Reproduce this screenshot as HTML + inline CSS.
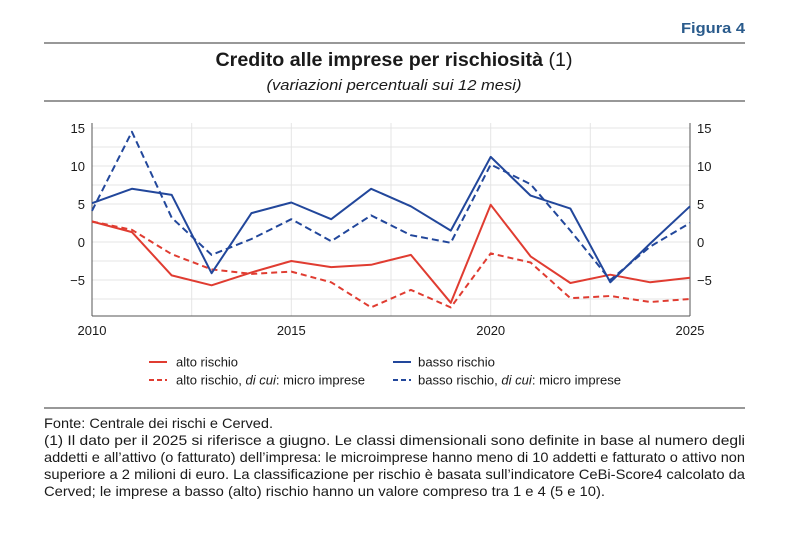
<!DOCTYPE html>
<html><head><meta charset="utf-8"><style>
html,body{margin:0;padding:0;background:#fff;}
svg{display:block;font-family:"Liberation Sans",sans-serif;}
</style></head><body>
<svg width="794" height="543" viewBox="0 0 794 543" xmlns="http://www.w3.org/2000/svg">
<text x="745" y="33" text-anchor="end" font-size="15" font-weight="bold" fill="#2a5b8c" textLength="64" lengthAdjust="spacingAndGlyphs">Figura 4</text>
<line x1="44" y1="43" x2="745" y2="43" stroke="#777" stroke-width="1.5"/>
<text x="394" y="66" text-anchor="middle" font-size="19" fill="#1a1a1a" textLength="357" lengthAdjust="spacingAndGlyphs"><tspan font-weight="bold">Credito alle imprese per rischiosità</tspan> (1)</text>
<text x="394" y="90" text-anchor="middle" font-size="15" font-style="italic" fill="#1a1a1a" textLength="255" lengthAdjust="spacingAndGlyphs">(variazioni percentuali sui 12 mesi)</text>
<line x1="44" y1="101" x2="745" y2="101" stroke="#777" stroke-width="1.5"/>

<g stroke="#e4e4e4" stroke-width="1">
<line x1="92" y1="128" x2="690" y2="128"/><line x1="92" y1="147" x2="690" y2="147"/>
<line x1="92" y1="166" x2="690" y2="166"/><line x1="92" y1="185" x2="690" y2="185"/>
<line x1="92" y1="204" x2="690" y2="204"/><line x1="92" y1="223" x2="690" y2="223"/>
<line x1="92" y1="242" x2="690" y2="242"/><line x1="92" y1="261" x2="690" y2="261"/>
<line x1="92" y1="280" x2="690" y2="280"/><line x1="92" y1="299" x2="690" y2="299"/>
<line x1="191.7" y1="123" x2="191.7" y2="316"/><line x1="291.3" y1="123" x2="291.3" y2="316"/>
<line x1="391" y1="123" x2="391" y2="316"/><line x1="490.7" y1="123" x2="490.7" y2="316"/>
<line x1="590.3" y1="123" x2="590.3" y2="316"/>
</g>
<g stroke="#555" stroke-width="1">
<line x1="92" y1="123" x2="92" y2="316"/>
<line x1="690" y1="123" x2="690" y2="316"/>
<line x1="92" y1="316" x2="690" y2="316"/>
</g>
<g font-size="13" fill="#1a1a1a">
<text x="85" y="133" text-anchor="end">15</text><text x="85" y="171" text-anchor="end">10</text>
<text x="85" y="209" text-anchor="end">5</text><text x="85" y="247" text-anchor="end">0</text>
<text x="85" y="285" text-anchor="end">−5</text>
<text x="697" y="133">15</text><text x="697" y="171">10</text>
<text x="697" y="209">5</text><text x="697" y="247">0</text>
<text x="697" y="285">−5</text>
<text x="92" y="335" text-anchor="middle">2010</text><text x="291.3" y="335" text-anchor="middle">2015</text>
<text x="490.7" y="335" text-anchor="middle">2020</text><text x="690" y="335" text-anchor="middle">2025</text>
</g>
<g fill="none" stroke-width="2" stroke-linejoin="round">
<polyline stroke="#e03c31" stroke-dasharray="6,4" points="92,221.5 131.9,229.8 171.7,254.2 211.6,269.4 251.5,273.9 291.3,271.6 331.2,282.3 371.1,307.4 410.9,289.9 450.8,307.4 490.7,253.4 530.6,262.5 570.4,298.2 610.3,296 650.2,302 690,299"/>
<polyline stroke="#e03c31" points="92,221.5 131.9,232.1 171.7,275.4 211.6,285.3 251.5,272.4 291.3,261 331.2,267.1 371.1,264.8 410.9,254.9 450.8,302.8 490.7,204.8 530.6,256.4 570.4,283 610.3,274.7 650.2,282.3 690,277.7"/>
<polyline stroke="#22479b" stroke-dasharray="7,4" points="92,210.8 131.9,131.8 171.7,217.7 211.6,254.9 251.5,239 291.3,219.2 331.2,241.2 371.1,215.4 410.9,235.2 450.8,242.8 490.7,164.5 530.6,184.2 570.4,230.6 610.3,280 650.2,246.6 690,223"/>
<polyline stroke="#22479b" points="92,203.2 131.9,188.8 171.7,194.9 211.6,273.2 251.5,213.1 291.3,202.5 331.2,219.2 371.1,188.8 410.9,206.3 450.8,230.6 490.7,156.9 530.6,195.6 570.4,208.6 610.3,282.3 650.2,243.5 690,206.3"/>
</g>
<g stroke-width="2">
<line x1="149" y1="362" x2="167" y2="362" stroke="#e03c31"/>
<line x1="149" y1="380" x2="167" y2="380" stroke="#e03c31" stroke-dasharray="5,3"/>
<line x1="393" y1="362" x2="411" y2="362" stroke="#22479b"/>
<line x1="393" y1="380" x2="411" y2="380" stroke="#22479b" stroke-dasharray="5,3"/>
</g>
<g font-size="13" fill="#1a1a1a">
<text x="176" y="366.5" textLength="62" lengthAdjust="spacingAndGlyphs">alto rischio</text>
<text x="176" y="384.5" textLength="189" lengthAdjust="spacingAndGlyphs">alto rischio, <tspan font-style="italic">di cui</tspan>: micro imprese</text>
<text x="418" y="366.5" textLength="77" lengthAdjust="spacingAndGlyphs">basso rischio</text>
<text x="418" y="384.5" textLength="203" lengthAdjust="spacingAndGlyphs">basso rischio, <tspan font-style="italic">di cui</tspan>: micro imprese</text>
</g>
<line x1="44" y1="408" x2="745" y2="408" stroke="#777" stroke-width="1.5"/>
<g font-size="14" fill="#1a1a1a">
<text x="44" y="428" textLength="229" lengthAdjust="spacingAndGlyphs">Fonte: Centrale dei rischi e Cerved.</text>
<text x="44" y="445" textLength="701" lengthAdjust="spacingAndGlyphs">(1) Il dato per il 2025 si riferisce a giugno. Le classi dimensionali sono definite in base al numero degli</text>
<text x="44" y="462" textLength="701" lengthAdjust="spacingAndGlyphs">addetti e all’attivo (o fatturato) dell’impresa: le microimprese hanno meno di 10 addetti e fatturato o attivo non</text>
<text x="44" y="479" textLength="701" lengthAdjust="spacingAndGlyphs">superiore a 2 milioni di euro. La classificazione per rischio è basata sull’indicatore CeBi-Score4 calcolato da</text>
<text x="44" y="496" textLength="561" lengthAdjust="spacingAndGlyphs">Cerved; le imprese a basso (alto) rischio hanno un valore compreso tra 1 e 4 (5 e 10).</text>
</g>
</svg>
</body></html>
